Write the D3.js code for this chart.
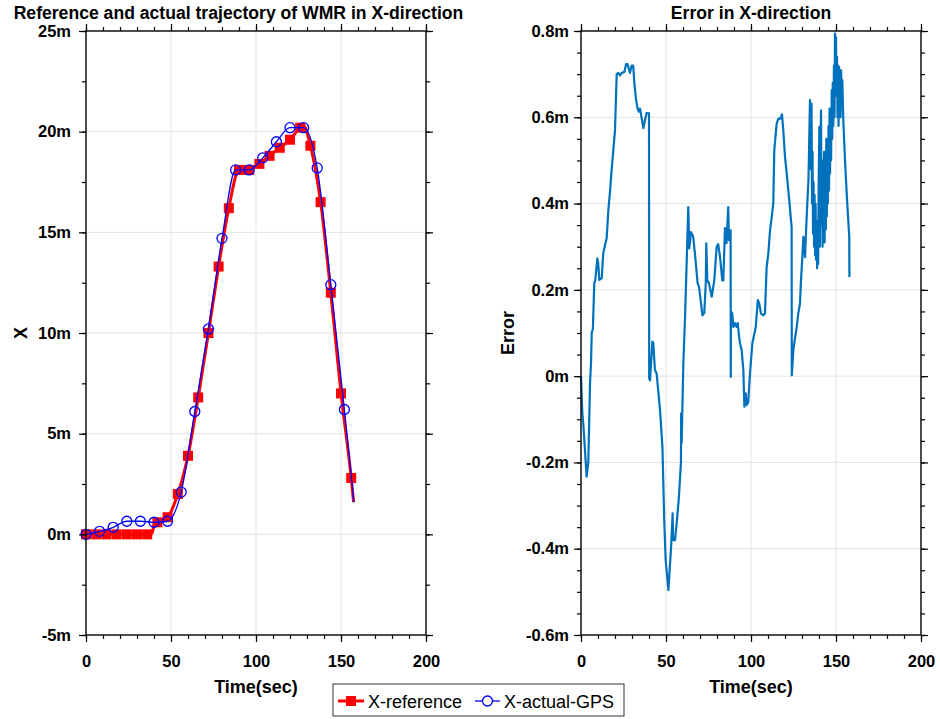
<!DOCTYPE html>
<html>
<head>
<meta charset="utf-8">
<script src="https://cdn.jsdelivr.net/npm/d3@7"></script>
<style>
  html, body { margin: 0; padding: 0; background: #fff; }
  svg { display: block; }
  text { font-family: "Liberation Sans", Arial, sans-serif; }
</style>
</head>
<body>
<svg id="chart" width="940" height="719"></svg>
<script>
// ---------------- DATA ----------------
const xTicks = [0, 50, 100, 150, 200];
const xMinorTicks = d3.range(0, 201, 10);
const leftYTicks = [-5, 0, 5, 10, 15, 20, 25];
const leftYMinorTicks = [-5, -2.5, 0, 2.5, 5, 7.5, 10, 12.5, 15, 17.5, 20, 22.5, 25];
const rightYTicks = [-0.6, -0.4, -0.2, 0, 0.2, 0.4, 0.6, 0.8];
const rightYMinorTicks = [-0.6,-0.55,-0.5,-0.45,-0.4,-0.35,-0.3,-0.25,-0.2,-0.15,-0.1,-0.05,0,0.05,0.1,0.15,0.2,0.25,0.3,0.35,0.4,0.45,0.5,0.55,0.6,0.65,0.7,0.75,0.8];

// X-reference: line and markers
const refLineT = [0, 38.5, 40.5, 42, 48, 54, 60, 66, 72, 78, 84, 90, 96, 102, 108, 114, 120, 126, 128, 132, 138, 144, 150, 156, 157.4];
const refLineX = [0, 0, 0.55, 0.6, 0.85, 2.0, 3.9, 6.8, 10.0, 13.3, 16.2, 18.1, 18.1, 18.4, 18.8, 19.2, 19.6, 20.2, 20.3, 19.3, 16.5, 12.0, 7.0, 2.8, 1.6];
const refMarkT = [0, 6, 12, 18, 24, 30, 36, 42, 48, 54, 60, 66, 72, 78, 84, 90, 96, 102, 108, 114, 120, 126, 132, 138, 144, 150, 156];
const refMarkX = [0, 0, 0, 0, 0, 0, 0, 0.6, 0.85, 2.0, 3.9, 6.8, 10.0, 13.3, 16.2, 18.1, 18.1, 18.4, 18.8, 19.2, 19.6, 20.2, 19.3, 16.5, 12.0, 7.0, 2.8];

// X-actual-GPS: line and markers
const gpsLineT = [0, 8, 16, 24, 32, 40, 48, 56, 64, 72, 80, 88, 96, 104, 112, 120, 128, 136, 144, 152, 157.6];
const gpsLineX = [0, 0.15, 0.35, 0.65, 0.65, 0.6, 0.65, 2.1, 6.1, 10.2, 14.7, 18.1, 18.1, 18.7, 19.5, 20.2, 20.2, 18.2, 12.4, 6.2, 1.6];
const gpsMarkT = [0, 8, 16, 24, 32, 40, 48, 56, 64, 72, 80, 88, 96, 104, 112, 120, 128, 136, 144, 152];
const gpsMarkX = [0, 0.15, 0.35, 0.65, 0.65, 0.6, 0.65, 2.1, 6.1, 10.2, 14.7, 18.1, 18.1, 18.7, 19.5, 20.2, 20.2, 18.2, 12.4, 6.2];

// Error in X-direction
const errT = [0,0.8,1.4,3.3,4.3,5.3,5.9,6.3,7.0,7.8,8.4,9.6,10.1,10.8,12.2,13.1,15.1,16.1,17.1,18.0,19.0,20.0,21.0,22.0,23.0,24.0,25.5,26.5,27.4,28.8,29.8,30.7,31.4,32.4,33.3,34.0,34.7,36.7,38.0,38.6,40.0,40.1,40.6,42.0,42.5,43.5,44.5,46.5,47.9,49.0,49.8,51.4,53.0,53.9,54.2,55.3,56.3,57.6,58.8,58.9,59.2,60.2,61.2,62.2,63.1,63.7,64.7,66.0,67.0,68.6,69.4,70.6,71.4,72.5,73.4,73.7,74.3,75.3,76.9,78.4,79.8,80.7,81.8,83.1,83.7,84.7,85.6,86.6,87.0,87.6,88.0,88.1,88.2,89.0,89.6,90.6,91.6,92.2,93.0,93.5,94.5,95.5,96.1,96.9,97.5,98.4,99.4,100.8,102.0,102.8,104.0,104.8,105.9,107.3,108.2,109.2,110.2,111.2,112.2,113.1,113.7,115.1,116.1,117.5,118.2,119.0,120.0,121.0,122.5,123.5,123.9,124.0,124.9,126.0,126.9,127.8,128.8,129.4,130.2,130.8,131.8,132.4,133.2,133.8,134.7,135.0,135.3,135.6,135.9,136.2,136.5,136.8,137.1,137.4,137.7,138.0,138.3,138.6,138.9,139.2,139.5,139.8,140.2,140.5,140.8,141.2,141.5,141.8,142.1,142.4,142.7,143.0,143.3,143.7,144.0,144.3,144.6,144.9,145.2,145.6,145.9,146.2,146.5,146.8,147.1,147.5,147.8,148.1,148.4,148.8,149.1,149.4,149.7,150.0,150.3,150.6,150.9,151.2,151.5,151.8,152.1,152.4,152.7,153.0,153.4,153.7,154.3,155.3,156.3,157.2,157.8,157.9];
const errV = [0,-0.086,-0.113,-0.233,-0.20,-0.017,0.03,0.10,0.11,0.215,0.222,0.273,0.262,0.223,0.227,0.285,0.32,0.385,0.43,0.477,0.524,0.57,0.70,0.703,0.697,0.703,0.705,0.723,0.723,0.703,0.72,0.72,0.679,0.64,0.62,0.613,0.62,0.575,0.60,0.61,0.609,-0.005,-0.01,0.08,0.077,0.014,0.006,-0.079,-0.164,-0.34,-0.426,-0.496,-0.396,-0.318,-0.38,-0.38,-0.34,-0.28,-0.20,-0.086,-0.155,0.03,0.137,0.269,0.392,0.296,0.334,0.323,0.285,0.215,0.207,0.169,0.141,0.146,0.215,0.308,0.222,0.215,0.184,0.222,0.30,0.306,0.276,0.222,0.222,0.343,0.308,0.392,0.315,0.338,0.338,-0.002,0.15,0.145,0.114,0.123,0.114,0.123,0.091,0.077,0.06,0.014,-0.071,-0.040,-0.067,-0.06,0.006,0.076,0.099,0.114,0.176,0.169,0.145,0.141,0.145,0.253,0.284,0.338,0.369,0.40,0.524,0.586,0.597,0.597,0.607,0.57,0.508,0.47,0.408,0.362,0.346,0.002,0.06,0.091,0.114,0.145,0.168,0.222,0.276,0.323,0.276,0.338,0.408,0.454,0.64,0.48,0.60,0.632,0.40,0.52,0.33,0.45,0.30,0.42,0.28,0.40,0.27,0.36,0.25,0.33,0.26,0.45,0.578,0.30,0.52,0.616,0.35,0.50,0.30,0.48,0.33,0.52,0.31,0.48,0.34,0.55,0.37,0.52,0.40,0.58,0.43,0.62,0.47,0.609,0.50,0.663,0.55,0.68,0.58,0.72,0.60,0.794,0.66,0.786,0.65,0.74,0.60,0.72,0.58,0.717,0.60,0.71,0.60,0.709,0.65,0.686,0.593,0.50,0.423,0.362,0.323,0.23];

// ---------------- DRAW ----------------
const svg = d3.select("#chart");
const FONT = '"Liberation Sans", Arial, sans-serif';
const GRID = "#e3e3e3";

function panel(cfg) {
  const { x, y, yTicks, yMinor, yFmt, yPad, title, titleX, ylabel, ylabelX } = cfg;
  const [x0, x1] = x.range();
  const [y0, y1] = y.range(); // y0 bottom, y1 top
  const g = svg.append("g");

  // grid
  g.append("g").selectAll("line").data(xTicks.slice(1, -1)).join("line")
    .attr("x1", d => x(d)).attr("x2", d => x(d)).attr("y1", y0).attr("y2", y1)
    .attr("stroke", GRID).attr("stroke-width", 1);
  g.append("g").selectAll("line").data(yTicks.slice(1, -1)).join("line")
    .attr("y1", d => y(d)).attr("y2", d => y(d)).attr("x1", x0).attr("x2", x1)
    .attr("stroke", GRID).attr("stroke-width", 1);

  const dataG = g.append("g");

  // axes
  const axG = g.append("g");
  function styleAxis(sel) {
    sel.select(".domain").remove();
    sel.selectAll("line").attr("stroke", "#000").attr("stroke-width", 1.2);
    sel.selectAll("text").attr("font-family", FONT).attr("font-weight", "bold")
      .attr("font-size", "16.5px").attr("fill", "#000");
  }
  // minor
  axG.append("g").attr("transform", `translate(0,${y0})`)
    .call(d3.axisBottom(x).tickValues(xMinorTicks).tickSize(4).tickFormat("").tickSizeOuter(0)).call(styleAxis);
  axG.append("g").attr("transform", `translate(0,${y1})`)
    .call(d3.axisTop(x).tickValues(xMinorTicks).tickSize(4).tickFormat("").tickSizeOuter(0)).call(styleAxis);
  axG.append("g").attr("transform", `translate(${x0},0)`)
    .call(d3.axisLeft(y).tickValues(yMinor).tickSize(4).tickFormat("").tickSizeOuter(0)).call(styleAxis);
  axG.append("g").attr("transform", `translate(${x1},0)`)
    .call(d3.axisRight(y).tickValues(yMinor).tickSize(4).tickFormat("").tickSizeOuter(0)).call(styleAxis);
  // major
  axG.append("g").attr("transform", `translate(0,${y0})`)
    .call(d3.axisBottom(x).tickValues(xTicks).tickSize(7).tickPadding(13).tickSizeOuter(0)).call(styleAxis);
  axG.append("g").attr("transform", `translate(0,${y1})`)
    .call(d3.axisTop(x).tickValues(xTicks).tickSize(7).tickFormat("").tickSizeOuter(0)).call(styleAxis);
  axG.append("g").attr("transform", `translate(${x0},0)`)
    .call(d3.axisLeft(y).tickValues(yTicks).tickSize(7).tickPadding(yPad).tickFormat(yFmt).tickSizeOuter(0)).call(styleAxis);
  axG.append("g").attr("transform", `translate(${x1},0)`)
    .call(d3.axisRight(y).tickValues(yTicks).tickSize(7).tickFormat("").tickSizeOuter(0)).call(styleAxis);
  // box
  axG.append("rect").attr("x", x0).attr("y", y1).attr("width", x1 - x0).attr("height", y0 - y1)
    .attr("fill", "none").attr("stroke", "#000").attr("stroke-width", 1.4);

  // titles
  svg.append("text").attr("x", titleX).attr("y", 19).attr("text-anchor", "middle")
    .attr("font-family", FONT).attr("font-weight", "bold").attr("font-size", "17.6px").text(title);
  svg.append("text").attr("x", (x0 + x1) / 2).attr("y", 693).attr("text-anchor", "middle")
    .attr("font-family", FONT).attr("font-weight", "bold").attr("font-size", "18px").text("Time(sec)");
  svg.append("text").attr("transform", `translate(${ylabelX},${(y0 + y1) / 2}) rotate(-90)`)
    .attr("text-anchor", "middle").attr("font-family", FONT).attr("font-weight", "bold")
    .attr("font-size", "18px").text(ylabel);
  return dataG;
}

// Left panel
const xL = d3.scaleLinear().domain([0, 200]).range([86, 426]);
const yL = d3.scaleLinear().domain([-5, 25]).range([635, 31]);
const gL = panel({
  x: xL, y: yL, yTicks: leftYTicks, yMinor: leftYMinorTicks,
  yFmt: d => d + "m", yPad: 8,
  title: "Reference and actual trajectory of WMR in X-direction", titleX: 238.5,
  ylabel: "X", ylabelX: 27
});

const refLine = d3.line().x(d => xL(d[0])).y(d => yL(d[1])).curve(d3.curveMonotoneX);
const refPts = refLineT.map((t, i) => [t, refLineX[i]]);
const gpsPts = gpsLineT.map((t, i) => [t, gpsLineX[i]]);
gL.append("path").attr("d", refLine(refPts)).attr("fill", "none").attr("stroke", "#ff0000")
  .attr("stroke-width", 3).attr("stroke-linejoin", "round");
gL.selectAll("rect.ref").data(refMarkT.map((t, i) => [t, refMarkX[i]])).join("rect")
  .attr("class", "ref").attr("x", d => xL(d[0]) - 5).attr("y", d => yL(d[1]) - 5)
  .attr("width", 10).attr("height", 10).attr("fill", "#ff0000");
gL.append("path").attr("d", refLine(gpsPts)).attr("fill", "none").attr("stroke", "#0000ff")
  .attr("stroke-width", 1.3).attr("stroke-linejoin", "round");
gL.selectAll("circle.gps").data(gpsMarkT.map((t, i) => [t, gpsMarkX[i]])).join("circle")
  .attr("class", "gps").attr("cx", d => xL(d[0])).attr("cy", d => yL(d[1])).attr("r", 5)
  .attr("fill", "none").attr("stroke", "#0000ff").attr("stroke-width", 1.3);

// Right panel
const xR = d3.scaleLinear().domain([0, 200]).range([581, 921]);
const yR = d3.scaleLinear().domain([-0.6, 0.8]).range([635, 31]);
const gR = panel({
  x: xR, y: yR, yTicks: rightYTicks, yMinor: rightYMinorTicks,
  yFmt: d => (Math.abs(d) < 1e-9 ? "0" : d.toFixed(1)) + "m", yPad: 5,
  title: "Error in X-direction", titleX: 751,
  ylabel: "Error", ylabelX: 514
});
const errLine = d3.line().x(d => xR(d[0])).y(d => yR(d[1]));
gR.append("path").attr("d", errLine(errT.map((t, i) => [t, errV[i]])))
  .attr("fill", "none").attr("stroke", "#0072bd").attr("stroke-width", 2.2)
  .attr("stroke-linejoin", "round");

// Legend
const leg = svg.append("g");
leg.append("rect").attr("x", 333).attr("y", 684).attr("width", 291).attr("height", 32)
  .attr("fill", "#fff").attr("stroke", "#333").attr("stroke-width", 1);
leg.append("line").attr("x1", 338).attr("x2", 364).attr("y1", 701).attr("y2", 701)
  .attr("stroke", "#ff0000").attr("stroke-width", 3);
leg.append("rect").attr("x", 351 - 5).attr("y", 701 - 5).attr("width", 10).attr("height", 10).attr("fill", "#ff0000");
leg.append("text").attr("x", 368).attr("y", 707.5).attr("font-family", FONT).attr("font-size", "18px").text("X-reference");
leg.append("line").attr("x1", 475).attr("x2", 500).attr("y1", 701).attr("y2", 701)
  .attr("stroke", "#0000ff").attr("stroke-width", 1.3);
leg.append("circle").attr("cx", 487.5).attr("cy", 701).attr("r", 5).attr("fill", "#fff")
  .attr("stroke", "#0000ff").attr("stroke-width", 1.3);
leg.append("text").attr("x", 504).attr("y", 707.5).attr("font-family", FONT).attr("font-size", "18px").text("X-actual-GPS");
</script>
</body>
</html>
